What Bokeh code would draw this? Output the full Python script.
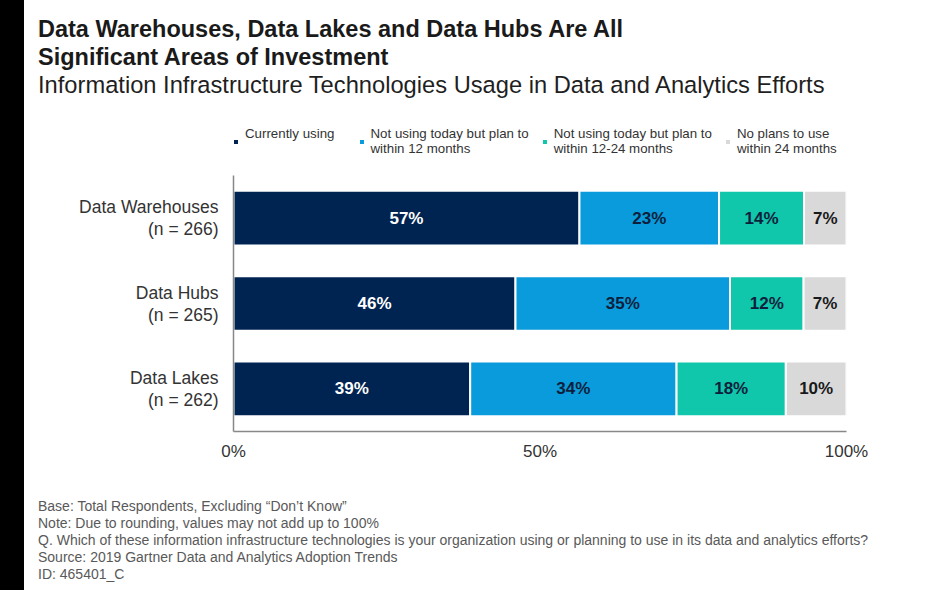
from bokeh.plotting import figure
from bokeh.models import (ColumnDataSource, FactorRange, Range1d, FixedTicker,
                          PrintfTickFormatter, Legend, LegendItem, Div)
from bokeh.layouts import row, column
from bokeh.core.properties import value
from bokeh.embed import file_html
from bokeh.resources import INLINE

# ---- data ----
categories = ["Data Warehouses\n(n = 266)", "Data Hubs\n(n = 265)", "Data Lakes\n(n = 262)"]
currently_using = [57, 46, 39]
plan_within_12 = [23, 35, 34]
plan_within_12_24 = [14, 12, 18]
no_plans = [7, 7, 10]
series_names = ["Currently using   \n ",
                "Not using today but plan to\nwithin 12 months",
                "Not using today but plan to\nwithin 12-24 months",
                "No plans to use\nwithin 24 months"]
x_ticks = [0, 50, 100]

title_lines = ["Data Warehouses, Data Lakes and Data Hubs Are All",
               "Significant Areas of Investment"]
subtitle = "Information Infrastructure Technologies Usage in Data and Analytics Efforts"
footnotes = ["Base: Total Respondents, Excluding \u201cDon\u2019t Know\u201d",
             "Note: Due to rounding, values may not add up to 100%",
             "Q. Which of these information infrastructure technologies is your organization using or planning to use in its data and analytics efforts?",
             "Source: 2019 Gartner Data and Analytics Adoption Trends",
             "ID: 465401_C"]

# ---- styles ----
FONT = "Liberation Sans"
colors = ["#002452", "#0a9bdc", "#10c6ab", "#d9d9d9"]
label_colors = ["#ffffff", "#0d1f3c", "#0d1f3c", "#1a1a1a"]

series = [currently_using, plan_within_12, plan_within_12_24, no_plans]
totals = [sum(v) for v in zip(*series)]

# ---- legend strip (its own small figure so the legend is not clipped) ----
lf = figure(width=912, height=39, x_range=Range1d(0, 1), y_range=Range1d(0, 1),
            output_backend="svg", toolbar_location=None, x_axis_type=None,
            y_axis_type=None, min_border_left=209, min_border_right=90,
            min_border_top=0, min_border_bottom=0, margin=0)
lf.outline_line_color = None
lf.grid.visible = False
legend_items = []
for i, name in enumerate(series_names):
    # swatch proxy, kept outside the visible range
    proxy = lf.rect(x=[-1], y=[-1], width=0.1, height=0.1, fill_color=colors[i],
                    line_color=None)
    legend_items.append(LegendItem(label=name, renderers=[proxy]))
legend = Legend(items=legend_items, orientation="horizontal", location="top_left",
                padding=0, margin=0, spacing=13, label_standoff=7,
                glyph_width=5, glyph_height=5, border_line_color=None,
                background_fill_alpha=0, label_text_font=FONT,
                label_text_font_size="13.3px", label_text_color="#333333",
                label_text_line_height=1.35)
lf.add_layout(legend, "center")

# ---- main chart ----
p = figure(y_range=FactorRange(*reversed(categories)), x_range=Range1d(0, 100),
           width=912, height=315, output_backend="svg", toolbar_location=None,
           min_border_left=209, min_border_right=90, min_border_top=10,
           min_border_bottom=49, margin=0)

left = [0.0] * len(categories)
for i, vals in enumerate(series):
    widths = [v / t * 100 for v, t in zip(vals, totals)]
    right = [l + w for l, w in zip(left, widths)]
    src = ColumnDataSource(dict(cat=categories, left=left, right=right,
                                mid=[(l + r) / 2 for l, r in zip(left, right)],
                                lab=[f"{v}%" for v in vals]))
    p.hbar(y="cat", left="left", right="right", height=0.64, source=src,
           fill_color=colors[i], line_color="white", line_width=2)
    p.text(x="mid", y="cat", text="lab", source=src, text_align="center",
           text_baseline="middle", text_font=value(FONT), text_font_style="bold",
           text_font_size="17px", text_color=label_colors[i])
    left = right

p.xgrid.grid_line_color = None
p.ygrid.grid_line_color = None
p.outline_line_color = None

p.xaxis.ticker = FixedTicker(ticks=x_ticks)
p.xaxis.formatter = PrintfTickFormatter(format="%d%%")
for ax in (p.xaxis, p.yaxis):
    ax.axis_line_color = "#888888"
    ax.axis_line_width = 1.5
    ax.major_tick_line_color = None
    ax.minor_tick_line_color = None
    ax.major_label_text_font = FONT
    ax.major_label_text_color = "#333333"
p.xaxis.major_label_text_font_size = "17px"
p.xaxis.major_label_standoff = 4
p.yaxis.major_label_text_font_size = "17.5px"
p.yaxis.major_label_text_line_height = 1.1
p.yaxis.major_label_standoff = 9

base = ("font-family:'Liberation Sans',Arial,sans-serif;white-space:nowrap;"
        "margin:0;padding:0;")
title_html = (
    f"<div style=\"{base}padding:15px 0 0 14px;\">"
    f"<div style=\"{base}font-size:23.5px;line-height:28px;font-weight:bold;color:#1a1a1a;\">"
    f"{title_lines[0]}<br>{title_lines[1]}</div>"
    f"<div style=\"{base}font-size:23.7px;line-height:29px;color:#1f1f1f;\">{subtitle}</div>"
    "</div>")
title_div = Div(text=title_html, width=912, height=126, margin=0)

foot_html = (
    f"<div style=\"{base}padding:18px 0 0 14px;font-size:14px;line-height:17px;color:#595959;\">"
    + "<br>".join(footnotes) + "</div>")
foot_div = Div(text=foot_html, width=912, height=110, margin=0)

strip = Div(width=24, height=590, margin=0, styles={"background-color": "black"})
layout = row(strip, column(title_div, lf, p, foot_div, spacing=0), spacing=0)

open("out.html", "w").write(file_html(layout, INLINE))
